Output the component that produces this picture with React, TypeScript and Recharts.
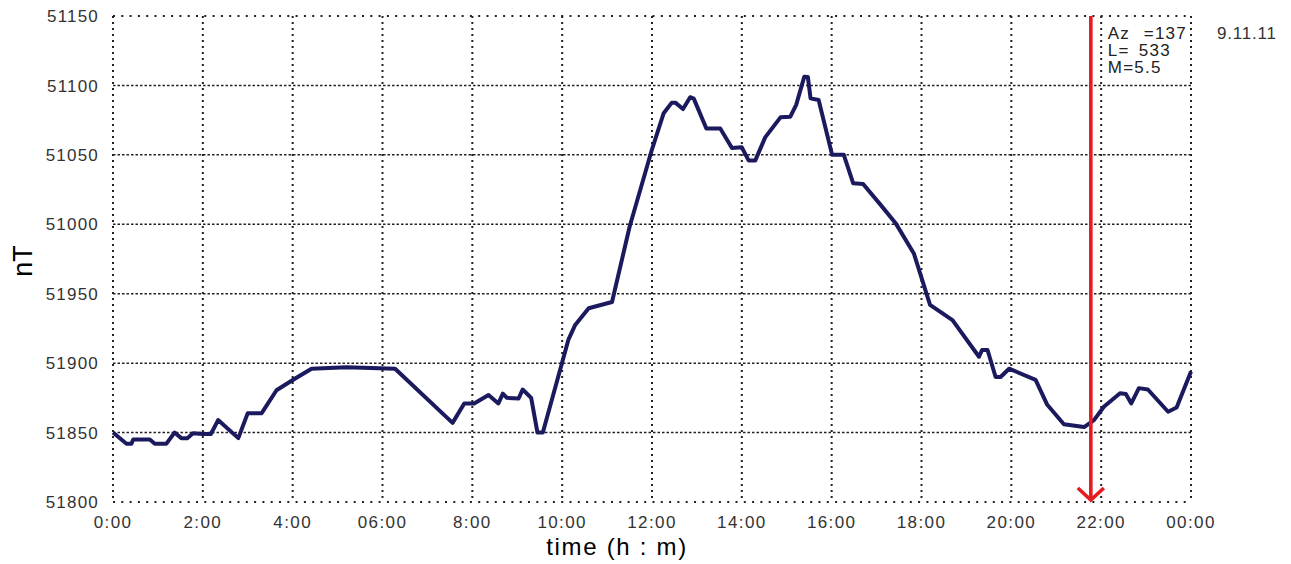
import React from 'react';
import { LineChart, Line, XAxis, YAxis, CartesianGrid, ReferenceLine } from 'recharts';

// ---- data ----
const TIME_HOURS = [
  0.0, 0.3, 0.41, 0.45, 0.82, 0.93, 1.19, 1.37, 1.52, 1.66, 1.78, 2.0, 2.18, 2.34, 2.79, 3.0, 3.31, 3.64, 4.01, 4.42,
  5.2, 6.28, 7.56, 7.82, 8.04, 8.36, 8.58, 8.68, 8.77, 9.03, 9.12, 9.31, 9.45, 9.57, 10.14, 10.29, 10.59, 11.11, 11.5, 12.0,
  12.26, 12.44, 12.52, 12.69, 12.85, 12.93, 13.21, 13.52, 13.78, 14.0, 14.15, 14.3, 14.52, 14.86, 15.08, 15.21, 15.39, 15.47, 15.53, 15.71,
  16.01, 16.27, 16.48, 16.7, 17.09, 17.42, 17.83, 18.19, 18.69, 19.28, 19.35, 19.47, 19.65, 19.76, 19.95, 20.54, 20.8, 21.17, 21.62, 21.84,
  22.06, 22.42, 22.55, 22.67, 22.84, 23.04, 23.49, 23.68, 24.0,
];
const FIELD_NT = [
  51850, 51842, 51842, 51845, 51845, 51842, 51842, 51850, 51846, 51846, 51849.5, 51849, 51849, 51859, 51846, 51864, 51864, 51880.5, 51888, 51896,
  51897, 51896, 51857, 51871, 51871, 51877, 51871, 51878, 51875, 51874.5, 51881, 51875, 51850, 51850, 51917, 51927.5, 51939.5, 51944, 51998, 52054,
  52080, 52087.6, 52087.6, 52083, 52091.5, 52090.5, 52069, 52069, 52055, 52055.4, 52046, 52046, 52062.6, 52077, 52077.5, 52086, 52106.3, 52106, 52090.7, 52089.5,
  52050, 52050, 52029.5, 52029, 52014, 52001, 51979, 51942, 51931, 51904.6, 51909.5, 51909.5, 51890, 51890, 51896, 51888, 51870, 51856, 51854, 51859,
  51868.6, 51878.3, 51877.8, 51871, 51882, 51881, 51865, 51868, 51894,
];
const X_TICKS = [0, 2, 4, 6, 8, 10, 12, 14, 16, 18, 20, 22, 24];
const X_TICK_LABELS = ['0:00', '2:00', '4:00', '06:00', '8:00', '10:00', '12:00', '14:00', '16:00', '18:00', '20:00', '22:00', '00:00'];
const Y_TICKS = [51800, 51850, 51900, 51950, 52000, 52050, 52100, 52150];
const Y_TICK_LABELS = ['51800', '51850', '51900', '51950', '51000', '51050', '51100', '51150'];
const EVENT_TIME = 21.77;
const EVENT_NOTES = [
  ['Az', '=137'],
  ['L=', '533'],
  ['M=5.5', ''],
];
const DATE_LABEL = '9.11.11';
const X_TITLE = 'time (h : m)';
const Y_TITLE = 'nT';

const data = TIME_HOURS.map((t, i) => ({ t, v: FIELD_NT[i] }));

// ---- styles ----
const FONT = "'Liberation Sans', Arial, Helvetica, sans-serif";
const NAVY = '#1b1a5e';
const RED = '#e41b1f';
const TICK_FILL = '#333';

const XTick = (props: any) => {
  const { x, y, payload } = props;
  const idx = X_TICKS.indexOf(payload.value);
  return (
    <text x={x} y={y} dy="0.71em" textAnchor="middle" fontFamily={FONT} fontSize={17} letterSpacing={1.4} fill={TICK_FILL}>
      {X_TICK_LABELS[idx]}
    </text>
  );
};

const YTick = (props: any) => {
  const { x, y, payload } = props;
  const idx = Y_TICKS.indexOf(payload.value);
  return (
    <text x={x} y={y} dy="0.36em" textAnchor="end" fontFamily={FONT} fontSize={17} letterSpacing={1.2} fill={TICK_FILL}>
      {Y_TICK_LABELS[idx]}
    </text>
  );
};

const XTitle = (props: any) => {
  const vb = props.viewBox || { x: 113, y: 502, width: 1078, height: 40 };
  const cx = vb.x + vb.width / 2 - 35;
  return (
    <text x={cx} y={vb.y + 53} textAnchor="middle" fontFamily={FONT} fontSize={24} letterSpacing={1.7} fill="#000">
      {X_TITLE}
    </text>
  );
};

const YTitle = (props: any) => {
  const vb = props.viewBox || { x: 0, y: 16, width: 113, height: 486 };
  const x = vb.x + 32;
  const y = vb.y + vb.height / 2 + 2;
  return (
    <text x={x} y={y} textAnchor="middle" fontFamily={FONT} fontSize={27} fill="#000" transform={`rotate(-90, ${x}, ${y})`}>
      {Y_TITLE}
    </text>
  );
};

const EventArrow = (props: any) => {
  const { x1, y1, x2, y2 } = props;
  const top = Math.min(y1, y2);
  const bottom = Math.max(y1, y2);
  const x = x1;
  const tip = bottom - 2;
  return (
    <g>
      <line x1={x} y1={top} x2={x} y2={tip} stroke={RED} strokeWidth={3.6} />
      <polyline points={`${x - 13},${tip - 12} ${x},${tip} ${x + 13},${tip - 12}`} fill="none" stroke={RED} strokeWidth={3.6} />
      {EVENT_NOTES.map((row, i) => (
        <g key={i}>
          <text x={x + 17} y={top + 23 + i * 17} fontFamily={FONT} fontSize={17} letterSpacing={1.2} fill="#222">
            {row[0]}
          </text>
          {row[1] ? (
            <text x={x + (i === 0 ? 53 : 48)} y={top + 23 + i * 17} fontFamily={FONT} fontSize={17} letterSpacing={1.2} fill="#222">
              {row[1]}
            </text>
          ) : null}
        </g>
      ))}
    </g>
  );
};

const DateLabel = (props: any) => {
  const vb = props.viewBox || { x: 1191, y: 16 };
  return (
    <text x={vb.x + 26} y={vb.y + 23} fontFamily={FONT} fontSize={17} letterSpacing={0.8} fill="#333">
      {DATE_LABEL}
    </text>
  );
};

export default function App() {
  return (
    <div style={{ position: 'absolute', left: 0, top: 0, width: 1291, height: 564, background: '#fff' }}>
      <LineChart width={1291} height={564} data={data} margin={{ top: 16, right: 100, bottom: 22, left: 0 }}>
        <CartesianGrid horizontal={false} stroke="#222" strokeWidth={2} strokeDasharray="2 4" />
        {Y_TICKS.map((v, i) => (
          <ReferenceLine
            key={v}
            y={v}
            stroke="#222"
            strokeWidth={i === 0 || i === Y_TICKS.length - 1 ? 2 : 1.5}
            strokeDasharray={i === 0 || i === Y_TICKS.length - 1 ? '2 6.3' : '2.5 2'}
          />
        ))}
        <XAxis
          dataKey="t"
          type="number"
          domain={[0, 24]}
          ticks={X_TICKS}
          height={40}
          axisLine={false}
          tickLine={false}
          tickMargin={8}
          tick={<XTick />}
          interval={0}
          label={XTitle}
        />
        <YAxis
          type="number"
          domain={[51800, 52150]}
          ticks={Y_TICKS}
          width={113}
          axisLine={false}
          tickLine={false}
          tickMargin={8}
          tick={<YTick />}
          interval={0}
          label={YTitle}
        />
        <Line
          type="linear"
          dataKey="v"
          stroke={NAVY}
          strokeWidth={4}
          strokeLinejoin="round"
          dot={false}
          activeDot={false}
          isAnimationActive={false}
        />
        <ReferenceLine x={24} stroke="none" label={DateLabel} />
        <ReferenceLine x={EVENT_TIME} shape={EventArrow} />
      </LineChart>
    </div>
  );
}
